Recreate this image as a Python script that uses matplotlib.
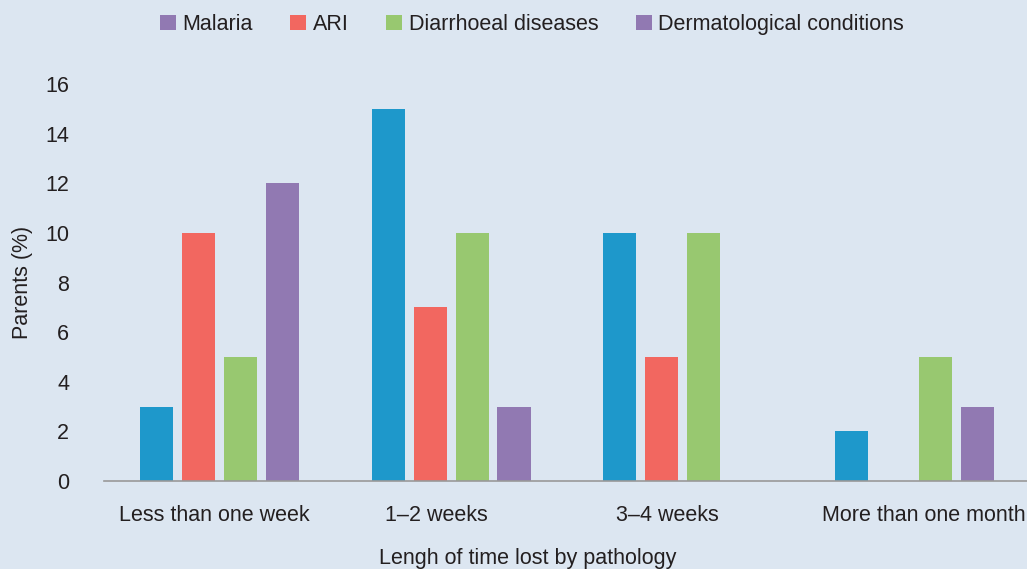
import numpy as np
import matplotlib.pyplot as plt
from matplotlib.patches import Patch
from matplotlib.transforms import ScaledTranslation

plt.rcParams['font.family'] = ['Liberation Sans', 'DejaVu Sans']

# données
categories = ['Less than one week', '1–2 weeks', '3–4 weeks', 'More than one month']
series = ['Malaria', 'ARI', 'Diarrhoeal diseases', 'Dermatological conditions']
malaria = [3, 15, 10, 2]
ari = [10, 7, 5, 0]
diarrhoea = [5, 10, 10, 5]
dermato = [12, 3, 0, 3]

bar_colors = ['#1e98cb', '#f26760', '#98c870', '#9179b2']
legend_colors = ['#9179b2', '#f26760', '#98c870', '#9179b2']
bg = '#dce6f1'
txt = '#231f20'
fs = 15.5

fig = plt.figure(figsize=(10.27, 5.69), dpi=100, facecolor=bg)
ax = fig.add_axes([0.101, 0.1547, 0.899, 0.6973], facecolor=bg)

x = np.arange(len(categories))
width = 0.143
offsets = np.array([-1.5, -0.5, 0.5, 1.5]) * 0.181
for vals, off, col in zip([malaria, ari, diarrhoea, dermato], offsets, bar_colors):
    ax.bar(x + off, vals, width=width, color=col, zorder=2)

ax.set_xlim(-0.5, 3.486)
ax.set_ylim(0, 16)
ax.set_yticks(range(0, 17, 2))
ax.set_xticks(x)
ax.set_xticklabels(categories)
ax.tick_params(axis='both', length=0, labelsize=fs, colors=txt)
ax.tick_params(axis='x', pad=17)
ax.tick_params(axis='y', pad=25)

# petit décalage des étiquettes comme sur l'original
shifts = [-5, -15, -15, 9]
for lab, dx in zip(ax.get_xticklabels(), shifts):
    lab.set_transform(lab.get_transform() + ScaledTranslation(dx / 100, 0, fig.dpi_scale_trans))

for s in ['left', 'right', 'top']:
    ax.spines[s].set_visible(False)
ax.spines['bottom'].set_color('#999999')
ax.spines['bottom'].set_linewidth(1.2)

ax.set_ylabel('Parents (%)', fontsize=fs, color=txt)
ax.yaxis.set_label_coords(-0.077, 0.5)
ax.set_xlabel('Lengh of time lost by pathology', fontsize=fs, color=txt)
ax.xaxis.set_label_coords(0.459, -0.168)

handles = [Patch(facecolor=c, label=s) for c, s in zip(legend_colors, series)]
fig.legend(handles=handles, loc='center', bbox_to_anchor=(0.518, 0.957), ncol=4,
           frameon=False, fontsize=fs, handlelength=0.75, handleheight=0.75,
           handletextpad=0.3, columnspacing=1.74, labelcolor=txt)

plt.savefig('out.png', dpi=100, facecolor=bg)
plt.close()
